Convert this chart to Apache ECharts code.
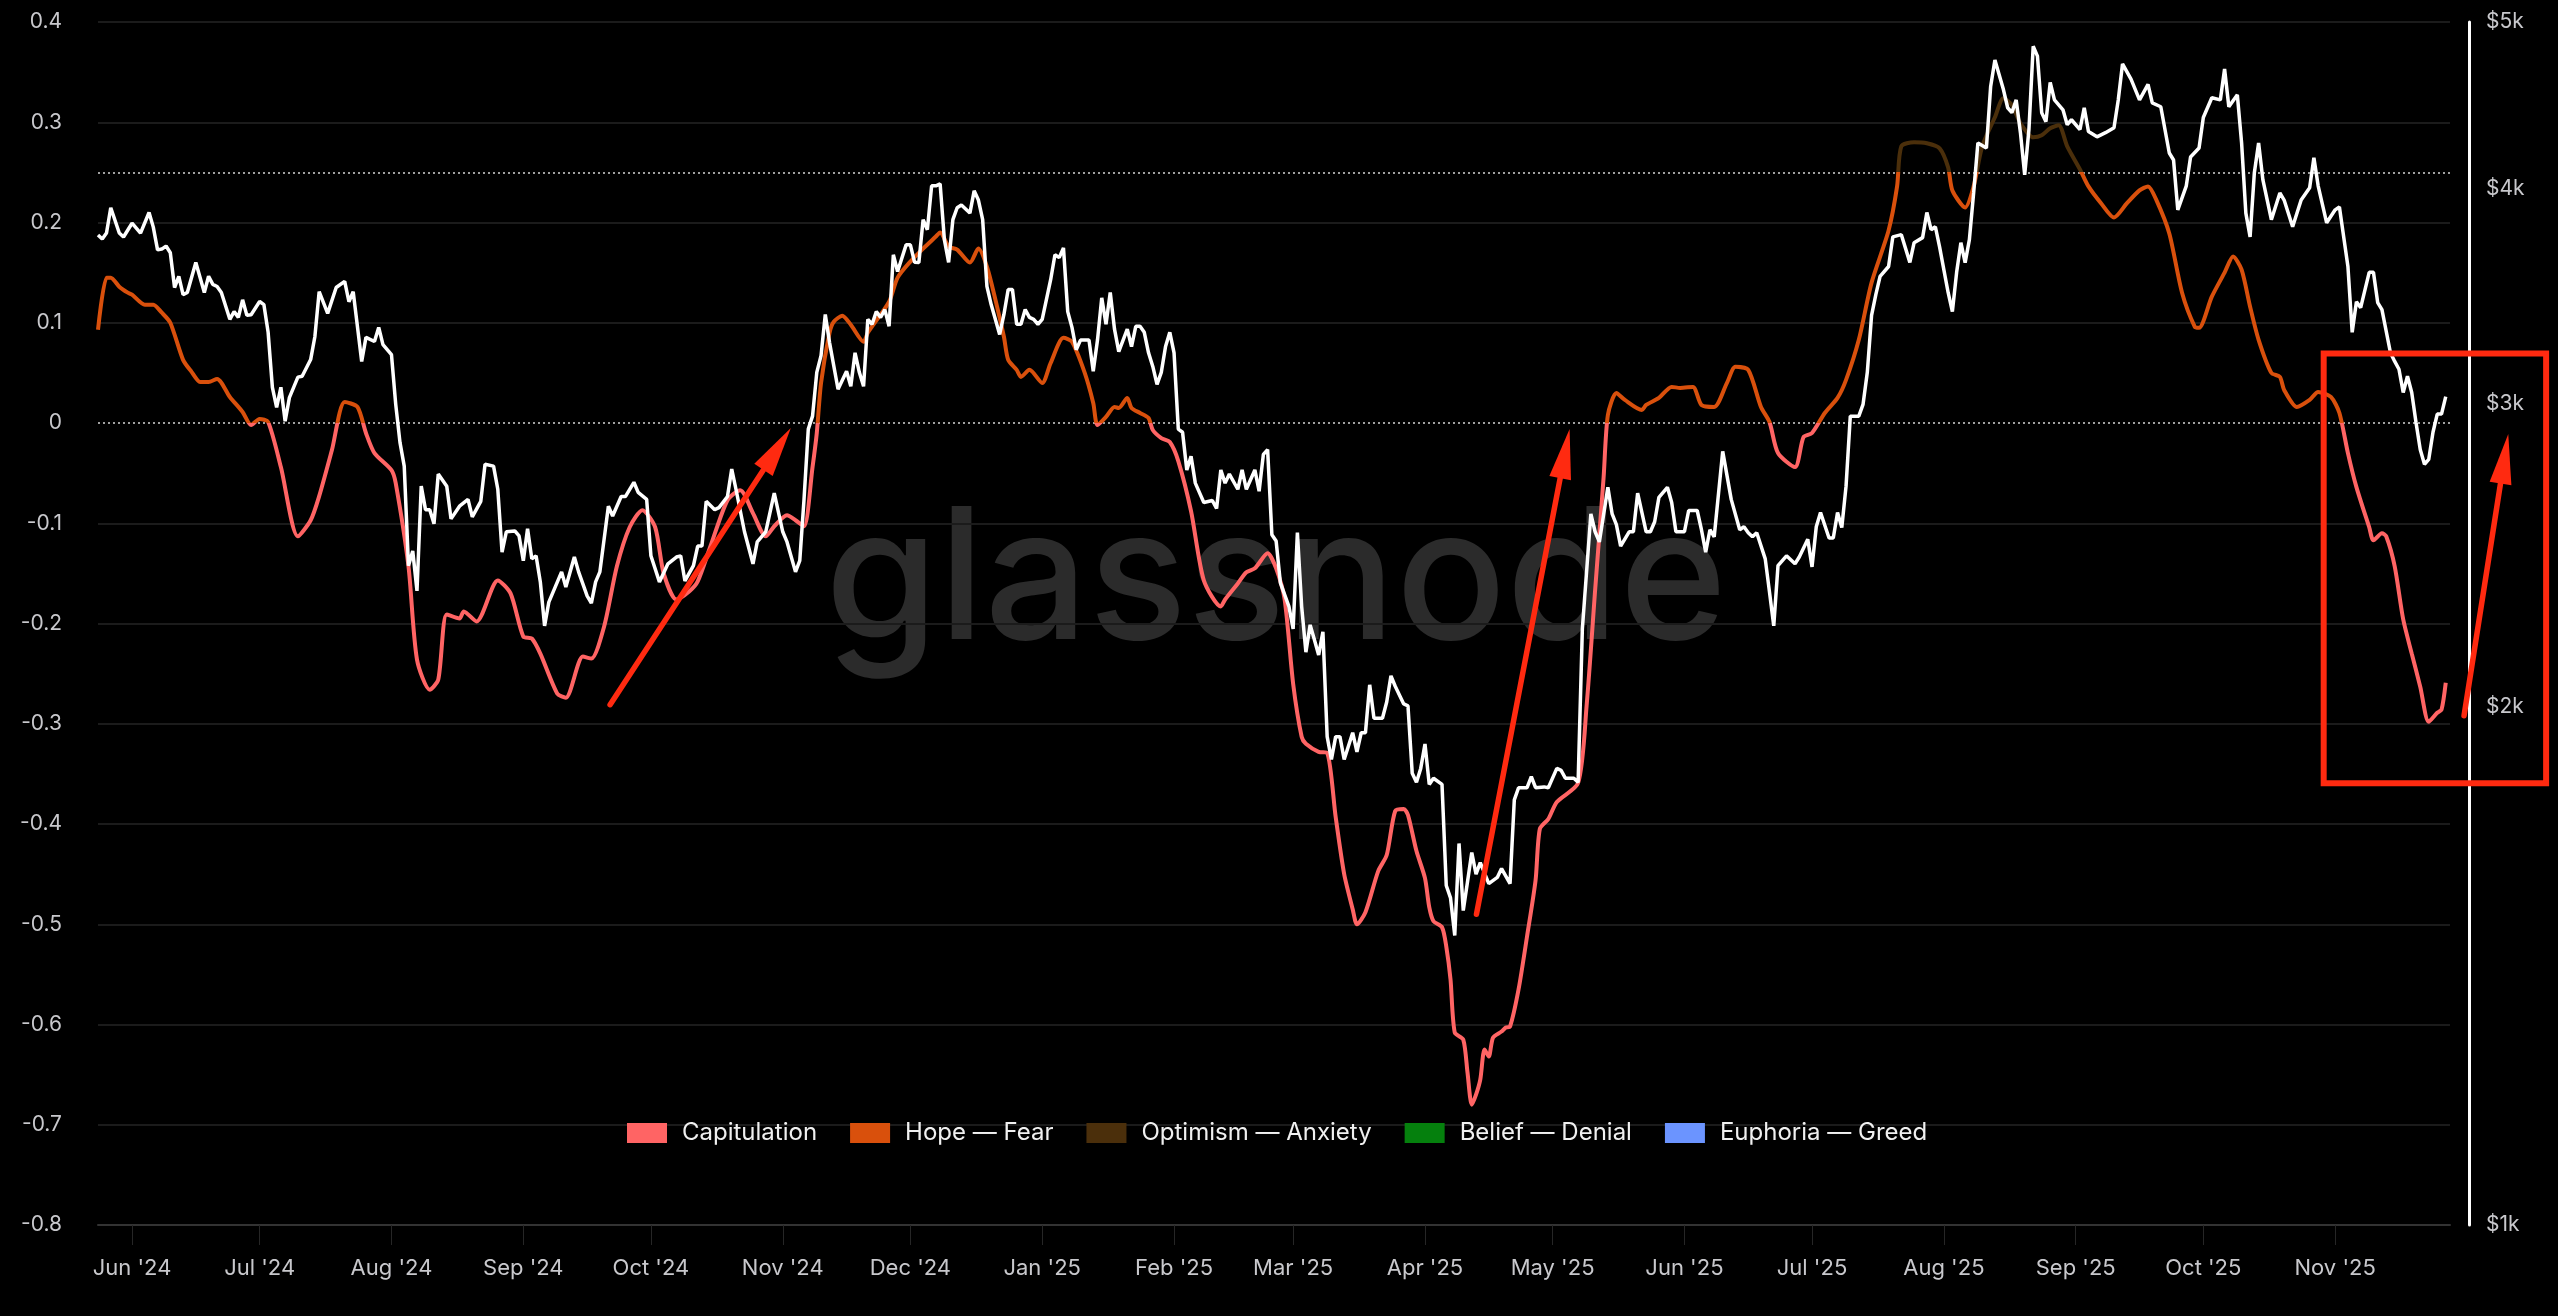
<!DOCTYPE html>
<html>
<head>
<meta charset="utf-8">
<script src="https://cdn.jsdelivr.net/npm/echarts@6/dist/echarts.min.js"></script>
<style>
html,body{margin:0;padding:0;background:#000;}
#chart{width:2558px;height:1316px;}
</style>
</head>
<body>
<div id="chart"></div>
<script>
// ---------- data ----------
const START = '2024-05-24';          // day 0 of the x axis
const AXIS_END_DAY = 553;

const monthTicks = ['2024-06-01','2024-07-01','2024-08-01','2024-09-01','2024-10-01','2024-11-01','2024-12-01',
  '2025-01-01','2025-02-01','2025-03-01','2025-04-01','2025-05-01','2025-06-01','2025-07-01','2025-08-01',
  '2025-09-01','2025-10-01','2025-11-01'];
const monthLabels = ["Jun '24","Jul '24","Aug '24","Sep '24","Oct '24","Nov '24","Dec '24",
  "Jan '25","Feb '25","Mar '25","Apr '25","May '25","Jun '25","Jul '25","Aug '25",
  "Sep '25","Oct '25","Nov '25"];

const priceTicks = [1000, 2000, 3000, 4000, 5000];

// NUPL (left axis), day offsets from START
const nuplDays = [0,2,3,5,7,8,11,13,15,17,20,22,24,26,28,31,34,36,38,40,43,47,50,52,55,58,61,63,65,69,70,73,75,78,80,82,85,86,89,94,97,100,102,104,108,110,114,116,119,122,125,128,131,133,136,139,141,144,148,151,154,157,159,162,164,166,168,169,170,172,173,175,177,180,181,186,188,191,194,197,198,200,202,205,207,209,211,213,214,216,217,219,222,224,227,229,232,234,235,237,239,240,242,243,245,247,248,250,252,254,257,260,264,265,268,270,272,275,277,279,281,283,284,287,289,291,293,295,296,298,301,303,305,307,308,310,312,313,314,316,317,318,319,321,322,323,324,325,326,327,328,330,331,332,334,336,338,339,341,343,348,350,352,354,355,357,359,363,364,367,370,372,375,377,380,383,385,388,391,393,395,399,401,403,406,409,411,414,417,421,423,424,427,430,433,435,436,439,441,443,446,448,450,452,455,457,459,461,463,466,468,471,474,477,480,482,484,487,490,493,494,497,500,502,504,506,508,511,513,514,517,520,522,525,527,529,531,534,535,537,538,540,542,544,546,548,550,551,552];
const nuplValues = [0.093,0.145,0.145,0.136,0.130,0.128,0.118,0.118,0.110,0.100,0.063,0.051,0.041,0.041,0.044,0.026,0.011,-0.002,0.004,0.001,-0.044,-0.113,-0.097,-0.073,-0.027,0.021,0.016,-0.010,-0.030,-0.047,-0.060,-0.143,-0.236,-0.266,-0.256,-0.191,-0.195,-0.188,-0.198,-0.157,-0.170,-0.213,-0.215,-0.230,-0.270,-0.274,-0.233,-0.235,-0.203,-0.143,-0.104,-0.087,-0.104,-0.150,-0.176,-0.168,-0.158,-0.123,-0.077,-0.067,-0.090,-0.113,-0.103,-0.092,-0.097,-0.103,-0.044,-0.010,0.040,0.090,0.101,0.107,0.098,0.081,0.090,0.121,0.145,0.161,0.174,0.186,0.190,0.176,0.173,0.160,0.174,0.156,0.123,0.086,0.063,0.053,0.046,0.053,0.040,0.060,0.085,0.081,0.050,0.020,-0.002,0.006,0.016,0.015,0.025,0.015,0.010,0.005,-0.007,-0.015,-0.019,-0.038,-0.088,-0.157,-0.183,-0.176,-0.160,-0.149,-0.145,-0.130,-0.145,-0.176,-0.260,-0.313,-0.320,-0.328,-0.329,-0.393,-0.450,-0.485,-0.500,-0.488,-0.447,-0.431,-0.387,-0.385,-0.391,-0.427,-0.454,-0.483,-0.497,-0.503,-0.522,-0.555,-0.608,-0.615,-0.648,-0.680,-0.670,-0.655,-0.625,-0.632,-0.613,-0.607,-0.603,-0.602,-0.565,-0.512,-0.456,-0.405,-0.395,-0.378,-0.359,-0.282,-0.167,-0.054,0.008,0.030,0.023,0.013,0.018,0.025,0.036,0.035,0.036,0.018,0.016,0.040,0.056,0.053,0.016,0.001,-0.030,-0.044,-0.014,-0.010,0.010,0.025,0.043,0.083,0.140,0.192,0.236,0.276,0.280,0.279,0.274,0.255,0.232,0.215,0.236,0.276,0.305,0.324,0.317,0.299,0.285,0.287,0.294,0.297,0.276,0.253,0.236,0.219,0.205,0.219,0.232,0.236,0.222,0.189,0.130,0.096,0.095,0.126,0.150,0.166,0.153,0.116,0.083,0.050,0.046,0.033,0.016,0.023,0.031,0.026,0.010,-0.030,-0.064,-0.104,-0.117,-0.110,-0.113,-0.143,-0.196,-0.230,-0.263,-0.298,-0.289,-0.286,-0.259];

// Price in USD (right log axis), day offsets from START
const priceDays = [0,1,2,3,5,6,8,10,12,13,14,15,16,17,18,19,20,21,23,25,26,27,28,29,31,32,33,34,35,36,38,39,40,41,42,43,44,45,47,48,50,51,52,54,56,58,59,60,62,63,65,66,67,69,70,71,72,73,74,75,76,77,78,79,80,82,83,85,87,88,90,91,93,94,95,96,98,99,100,101,102,103,104,105,106,109,110,112,113,115,116,117,118,120,121,123,124,126,127,129,130,132,134,136,137,138,140,141,142,143,145,146,148,149,150,152,154,155,157,159,161,162,164,165,166,167,168,169,170,171,172,174,176,177,178,179,180,181,182,183,184,185,186,187,188,190,191,192,193,194,195,196,197,198,199,200,201,202,203,205,206,207,208,209,210,212,213,214,215,216,217,218,219,220,221,222,224,225,226,227,228,229,230,231,233,234,235,236,237,238,239,240,242,243,244,245,246,247,248,249,250,251,252,253,254,255,256,257,258,260,262,263,264,265,266,268,269,270,272,273,274,275,276,277,278,280,281,282,283,284,285,286,287,288,289,290,291,292,293,295,296,297,298,299,300,302,303,304,305,307,308,309,310,311,312,313,314,316,317,318,319,320,321,322,323,324,325,327,329,330,332,333,334,336,337,338,340,341,343,344,345,347,348,349,351,352,353,355,356,357,358,360,361,362,364,365,366,367,369,370,371,373,374,376,377,378,379,380,382,384,386,387,388,389,390,392,393,394,395,397,399,400,402,403,404,405,407,408,409,410,411,412,414,415,416,417,418,419,421,422,424,426,427,429,430,431,432,433,435,436,437,438,439,440,441,442,444,445,446,448,449,450,451,452,453,454,455,456,457,458,459,460,462,463,464,466,467,468,470,472,474,475,476,478,480,482,483,485,487,488,489,491,492,494,495,497,499,500,501,503,504,505,506,507,508,509,511,513,514,516,518,520,521,522,524,526,527,529,530,531,532,534,535,536,537,539,540,541,542,543,544,545,546,547,548,549,550,551,552];
const priceValues = [3760,3740,3770,3900,3770,3750,3820,3770,3875,3800,3686,3690,3705,3672,3505,3558,3472,3482,3624,3482,3558,3520,3510,3482,3359,3394,3368,3448,3377,3380,3440,3426,3301,3067,2986,3067,2931,3025,3109,3113,3183,3283,3486,3386,3505,3534,3439,3486,3175,3279,3261,3323,3247,3204,2998,2849,2760,2416,2464,2336,2687,2604,2604,2555,2731,2687,2572,2616,2640,2579,2633,2767,2760,2676,2460,2528,2531,2514,2432,2538,2438,2448,2364,2229,2301,2396,2348,2444,2396,2320,2298,2364,2396,2616,2582,2650,2650,2701,2665,2640,2448,2364,2422,2444,2448,2367,2416,2480,2480,2633,2604,2611,2650,2749,2676,2528,2422,2494,2528,2662,2528,2494,2396,2432,2640,2900,2951,3129,3200,3381,3256,3059,3134,3071,3212,3129,3071,3359,3337,3394,3368,3403,3328,3662,3581,3711,3711,3625,3624,3838,3787,4016,4016,4026,3737,3625,3838,3900,3914,3872,3989,3940,3838,3510,3426,3292,3381,3496,3496,3337,3337,3403,3368,3359,3337,3359,3543,3662,3648,3696,3394,3323,3225,3267,3267,3134,3267,3457,3337,3482,3315,3217,3315,3239,3328,3328,3301,3212,3154,3079,3129,3239,3301,3212,2900,2888,2746,2797,2698,2629,2636,2608,2746,2698,2731,2676,2746,2676,2746,2669,2804,2822,2518,2497,2361,2288,2220,2525,2288,2152,2232,2188,2144,2211,1922,1864,1922,1922,1864,1932,1883,1932,1932,2060,1970,1970,2013,2085,2056,2008,2003,1830,1808,1842,1903,1803,1818,1803,1575,1549,1473,1666,1523,1583,1646,1599,1624,1579,1592,1611,1579,1766,1795,1795,1822,1795,1797,1795,1842,1837,1818,1818,1808,2220,2589,2528,2494,2683,2589,2552,2480,2528,2528,2662,2528,2528,2562,2647,2683,2629,2528,2528,2601,2601,2535,2460,2535,2511,2815,2640,2535,2545,2525,2511,2525,2438,2332,2229,2416,2448,2422,2444,2503,2412,2545,2594,2507,2507,2594,2542,2687,2951,2951,2998,3129,3377,3472,3558,3605,3751,3762,3625,3722,3747,3875,3787,3802,3700,3482,3394,3577,3722,3624,3737,3978,4253,4224,4587,4752,4568,4458,4429,4505,4312,4076,4330,4840,4777,4429,4376,4612,4505,4446,4358,4387,4330,4458,4318,4288,4312,4341,4505,4727,4632,4505,4600,4487,4464,4196,4157,3889,4016,4174,4224,4400,4518,4505,4695,4464,4536,4253,3872,3751,4087,4253,4049,3838,3978,3940,3802,3940,4005,4169,4016,3822,3889,3904,3605,3301,3439,3412,3577,3577,3435,3403,3212,3175,3142,3046,3113,3046,2927,2822,2767,2785,2888,2959,2959,3029];

// Market phases (NUPL bands) for the legend / colouring
const phaseNames  = ['Capitulation', 'Hope — Fear', 'Optimism — Anxiety', 'Belief — Denial', 'Euphoria — Greed'];
const phaseBounds = [0, 0.25, 0.5, 0.75];
const phaseColors = ['#ff6464', '#d9500c', '#4b2f0b', '#05800d', '#6b94ff'];

// Red annotations: [fromDay, fromNupl, toDay, toNupl]
const annotationArrows = [
  [120.4, -0.281, 162.9, -0.005],
  [324.1, -0.490, 346.0, -0.006],
  [556.3, -0.292, 566.7, -0.011]
];
const annotationBox = [[523.3, 0.0693, 575.6, -0.3594]];

// ---------- build chart ----------
const DAY = 86400000;
const t0 = Date.parse(START + 'T00:00:00Z');
const ts = d => t0 + d * DAY;
const monthTs = monthTicks.map(s => Date.parse(s + 'T00:00:00Z'));
const labelFor = v => {
  const i = monthTs.findIndex(m => Math.abs(m - v) < DAY / 2);
  return i >= 0 ? monthLabels[i] : '';
};

const nuplData  = nuplDays.map((d, i) => [ts(d), nuplValues[i]]);
const priceData = priceDays.map((d, i) => [ts(d), priceValues[i]]);
const arrowData = annotationArrows.map(a => [ts(a[0]), a[1], ts(a[2]), a[3]]);
const boxData   = annotationBox.map(b => [ts(b[0]), b[1], ts(b[2]), b[3]]);

const pieces = phaseNames.map((name, i) => {
  const p = { label: name, color: phaseColors[i] };
  if (i > 0) p.gte = phaseBounds[i - 1];
  if (i < phaseBounds.length) p.lt = phaseBounds[i];
  return p;
});

// split line colours: hide the one at 0 (drawn dotted instead)
const gridColors = [];
for (let k = -8; k <= 4; k++) gridColors.push(k === 0 ? 'rgba(0,0,0,0)' : '#1b1b1b');

const LABEL = '#c8c8cc';
const RED = '#ff2a10';
const FONT = 'Inter';

const chart = echarts.init(document.getElementById('chart'), null, { renderer: 'canvas' });

chart.setOption({
  backgroundColor: '#000',
  animation: false,
  textStyle: { fontFamily: FONT },
  grid: { left: 98, right: 108, top: 22, bottom: 91 },
  graphic: [{
    type: 'text', id: 'watermark', x: 1276, y: 584, z: 0, silent: true,
    style: { text: 'glassnode', x: 0, y: 0, align: 'center', verticalAlign: 'middle',
      fill: '#2b2b2b', font: '500 183px Inter' }
  }],
  visualMap: {
    type: 'piecewise', seriesIndex: 0, dimension: 1, orient: 'horizontal',
    left: 612, top: 1106, itemWidth: 40, itemHeight: 20, itemGap: 33, textGap: 15,
    itemSymbol: 'rect', hoverLink: false, selectedMode: false,
    textStyle: { color: '#f0f0f0', fontSize: 24, fontFamily: FONT },
    pieces: pieces
  },
  xAxis: {
    type: 'value', min: ts(0), max: ts(AXIS_END_DAY),
    axisLine: { show: true, onZero: false, lineStyle: { color: '#333', width: 2 } },
    axisTick: { show: true, customValues: monthTs, length: 20, lineStyle: { color: '#262626', width: 1 } },
    axisLabel: { customValues: monthTs, formatter: labelFor, color: LABEL, fontSize: 22, margin: 32, fontFamily: FONT },
    splitLine: { show: false }
  },
  yAxis: [{
    type: 'value', min: -0.8, max: 0.4, interval: 0.1, position: 'left',
    axisLine: { show: false }, axisTick: { show: false },
    axisLabel: { color: LABEL, fontSize: 21, margin: 36, fontFamily: FONT },
    splitLine: { show: true, lineStyle: { color: gridColors, width: 2 } }
  }, {
    type: 'log', logBase: 10, min: 1000, max: 5000, position: 'right', offset: 19,
    axisLine: { show: true, lineStyle: { color: '#ffffff', width: 3 } },
    axisTick: { show: false }, splitLine: { show: false },
    axisLabel: { customValues: priceTicks, formatter: v => '$' + Math.round(v / 1000) + 'k',
      color: LABEL, fontSize: 21, margin: 17, fontFamily: FONT }
  }],
  series: [{
    name: 'NUPL', type: 'line', data: nuplData, yAxisIndex: 0,
    symbol: 'none', smooth: 0.25, lineStyle: { width: 4 }, z: 3,
    markLine: {
      silent: true, symbol: 'none', z: 1, label: { show: false },
      lineStyle: { type: [2, 3], color: '#a0a0a0', width: 2 },
      data: [{ yAxis: 0 }, { yAxis: 0.25 }]
    }
  }, {
    name: 'Price', type: 'line', data: priceData, yAxisIndex: 1,
    symbol: 'none', lineStyle: { color: '#ffffff', width: 3.5 }, z: 4
  }, {
    name: 'arrows', type: 'custom', data: arrowData, yAxisIndex: 0, z: 10, silent: true,
    encode: { x: [0, 2], y: [1, 3] },
    renderItem: (params, api) => {
      const a = api.coord([api.value(0), api.value(1)]);
      const b = api.coord([api.value(2), api.value(3)]);
      const dx = b[0] - a[0], dy = b[1] - a[1];
      const len = Math.hypot(dx, dy), ux = dx / len, uy = dy / len;
      const hl = 50, hw = 11;
      const base = [b[0] - ux * hl, b[1] - uy * hl];
      return { type: 'group', children: [
        { type: 'line', shape: { x1: a[0], y1: a[1], x2: base[0] + ux * 6, y2: base[1] + uy * 6 },
          style: { stroke: RED, lineWidth: 5.5, lineCap: 'round' } },
        { type: 'polygon', shape: { points: [b, [base[0] - uy * hw, base[1] + ux * hw], [base[0] + uy * hw, base[1] - ux * hw]] },
          style: { fill: RED } }
      ] };
    }
  }, {
    name: 'box', type: 'custom', data: boxData, yAxisIndex: 0, z: 10, silent: true,
    encode: { x: [0, 2], y: [1, 3] },
    renderItem: (params, api) => {
      const a = api.coord([api.value(0), api.value(1)]);
      const b = api.coord([api.value(2), api.value(3)]);
      return { type: 'rect', shape: { x: Math.min(a[0], b[0]), y: Math.min(a[1], b[1]),
        width: Math.abs(b[0] - a[0]), height: Math.abs(b[1] - a[1]) },
        style: { fill: 'none', stroke: RED, lineWidth: 6 } };
    }
  }]
});
</script>
</body>
</html>
